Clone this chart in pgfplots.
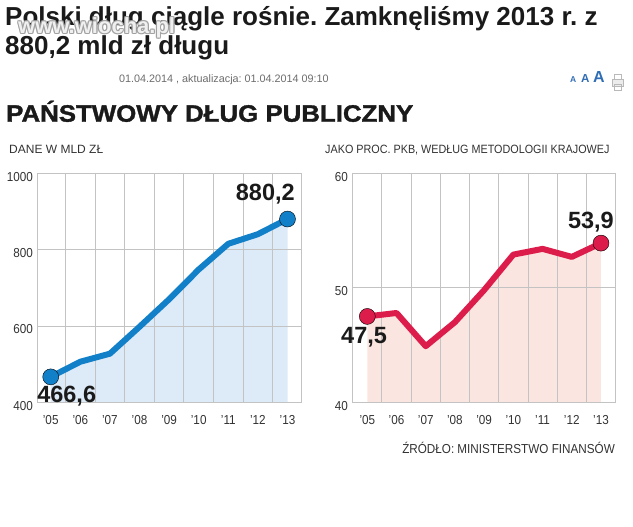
\documentclass[border=0pt]{standalone}
\usepackage{pgfplots}
\pgfplotsset{compat=1.18}
\usepackage{fontspec}
\setmainfont{Liberation Sans}
\newfontfamily\cond[FakeStretch=0.9]{Liberation Sans}
\newfontfamily\heavy[FakeStretch=1.09,BoldFeatures={FakeStretch=1.09,FakeBold=1.5}]{Liberation Sans}
\frenchspacing
\definecolor{lineblue}{RGB}{18,128,200}
\definecolor{fillblue}{RGB}{221,234,247}
\definecolor{linered}{RGB}{220,28,74}
\definecolor{fillred}{RGB}{251,229,224}
\definecolor{gridc}{RGB}{195,195,195}
\definecolor{tickc}{RGB}{50,50,50}
\definecolor{txt}{RGB}{26,26,26}
\definecolor{aaa}{RGB}{47,109,181}
\pgfplotsset{
  panel/.style={
    scale only axis, set layers, clip=false,
    axis line style={gridc, line width=0.9pt},
    xtick={0,...,8},
    xticklabels={’05,’06,’07,’08,’09,’10,’11,’12,’13},
    minor xtick={0.5,1.5,2.5,3.5,4.5,5.5,6.5,7.5},
    xminorgrids, ymajorgrids,
    minor grid style={gridc, line width=0.9pt},
    major grid style={gridc, line width=0.9pt},
    major tick length=0pt, minor tick length=0pt,
    tick label style={font=\cond\fontsize{13}{13}\selectfont, text=tickc},
    xticklabel style={anchor=base, inner sep=0pt, yshift=-22pt},
    yticklabel style={anchor=east, inner sep=0pt, xshift=-4.3pt, yshift=-3.5pt},
  },
}
\tikzset{vlabel/.style={inner sep=0pt, text=txt, font=\bfseries\fontsize{23.5}{24}\selectfont}}
\begin{document}
\begin{tikzpicture}
\begin{scope}[x=1pt,y=1pt]
\useasboundingbox (0,0) rectangle (633,527);
% page title
\node[anchor=base west, inner sep=0pt, text=txt, font=\bfseries\fontsize{26}{30}\selectfont] at (5,501) {Polski dług ciągle rośnie. Zamknęliśmy 2013 r. z};
\node[anchor=base west, inner sep=0pt, text=txt, font=\bfseries\fontsize{26}{30}\selectfont] at (5,472) {880,2 mld zł długu};
% watermark
\foreach \dx/\dy in {-1.2/0,1.2/0,0/-1.2,0/1.2,-0.9/-0.9,0.9/0.9,-0.9/0.9,0.9/-0.9}{
  \node[anchor=base west, inner sep=0pt, text=gray!75, opacity=0.8, font=\bfseries\fontsize{22}{24}\selectfont] at (18+\dx,493.7+\dy) {www.wiocha.pl};
}
\node[anchor=base west, inner sep=0pt, text=white, opacity=0.85, font=\bfseries\fontsize{22}{24}\selectfont] at (18,493.7) {www.wiocha.pl};
% date line
\node[anchor=base west, inner sep=0pt, text=gray!85!black, font=\fontsize{10.8}{12}\selectfont] at (119,444.3) {01.04.2014 , aktualizacja: 01.04.2014 09:10};
\node[anchor=base west, inner sep=0pt, text=aaa, font=\bfseries\fontsize{8.5}{10}\selectfont] at (570,444) {A};
\node[anchor=base west, inner sep=0pt, text=aaa, font=\bfseries\fontsize{11.6}{12}\selectfont] at (581,444) {A};
\node[anchor=base west, inner sep=0pt, text=aaa, font=\bfseries\fontsize{16}{16}\selectfont] at (593,444) {A};
% print icon
\draw[gray!55, line width=1pt] (614.5,447) rectangle (621.5,452);
\draw[gray!55, line width=1pt, fill=gray!15] (612.5,440) rectangle (623.5,447);
\draw[gray!55, line width=1pt] (614.5,436) rectangle (621.5,442);
% headline
\node[anchor=base west, inner sep=0pt, text=txt, font=\heavy\bfseries\fontsize{23.7}{26}\selectfont] at (6,405.3) {PAŃSTWOWY DŁUG PUBLICZNY};
\node[anchor=base west, inner sep=0pt, text=tickc, font=\fontsize{12}{12}\selectfont] at (9,373.7) {DANE W MLD ZŁ};
\node[anchor=base west, inner sep=0pt, text=tickc, font=\cond\fontsize{12}{12}\selectfont] at (325,373.7) {JAKO PROC. PKB, WEDŁUG METODOLOGII KRAJOWEJ};
\node[anchor=base east, inner sep=0pt, text=tickc, font=\cond\fontsize{13}{13}\selectfont] at (615,73) {ŹRÓDŁO: MINISTERSTWO FINANSÓW};
\end{scope}
% left panel
\begin{axis}[panel, at={(37.3pt,124.7pt)}, anchor=south west,
  width=263.7pt, height=229pt,
  xmin=-0.453, xmax=8.456, ymin=400, ymax=1000,
  ytick={400,600,800,1000}, yticklabels={400,600,800,1000}]
\addplot[fill=fillblue, draw=none, on layer=axis background] coordinates {
  (0,400) (0,466.6) (1,506.3) (2,527.4) (3,597.8) (4,669.9) (5,747.9) (6,815.3) (7,840.5) (8,880.2) (8,400)};
\addplot[lineblue, line width=6pt, line join=round, line cap=round] coordinates {
  (0,466.6) (1,506.3) (2,527.4) (3,597.8) (4,669.9) (5,747.9) (6,815.3) (7,840.5) (8,880.2)};
\addplot[only marks, mark=*, mark size=8pt, mark options={fill=lineblue, draw=none}] coordinates {(0,466.6) (8,880.2)};
\node[vlabel, anchor=base west] at (axis cs:-0.46,400.3) {466,6};
\node[vlabel, anchor=base east] at (axis cs:8.25,928) {880,2};
\end{axis}
% right panel
\begin{axis}[panel, at={(352.3pt,124.7pt)}, anchor=south west,
  width=263pt, height=229pt,
  xmin=-0.514, xmax=8.49, ymin=40, ymax=60,
  ytick={40,50,60}, yticklabels={40,50,60}]
\addplot[fill=fillred, draw=none, on layer=axis background] coordinates {
  (0,40) (0,47.5) (1,47.8) (2,44.9) (3,47.0) (4,49.8) (5,52.9) (6,53.4) (7,52.7) (8,53.9) (8,40)};
\addplot[linered, line width=6pt, line join=round, line cap=round] coordinates {
  (0,47.5) (1,47.8) (2,44.9) (3,47.0) (4,49.8) (5,52.9) (6,53.4) (7,52.7) (8,53.9)};
\addplot[only marks, mark=*, mark size=8pt, mark options={fill=linered, draw=none}] coordinates {(0,47.5) (8,53.9)};
\node[vlabel, anchor=base west] at (axis cs:-0.90,45.15) {47,5};
\node[vlabel, anchor=base east] at (axis cs:8.446,55.2) {53,9};
\end{axis}
\end{tikzpicture}
\end{document}
